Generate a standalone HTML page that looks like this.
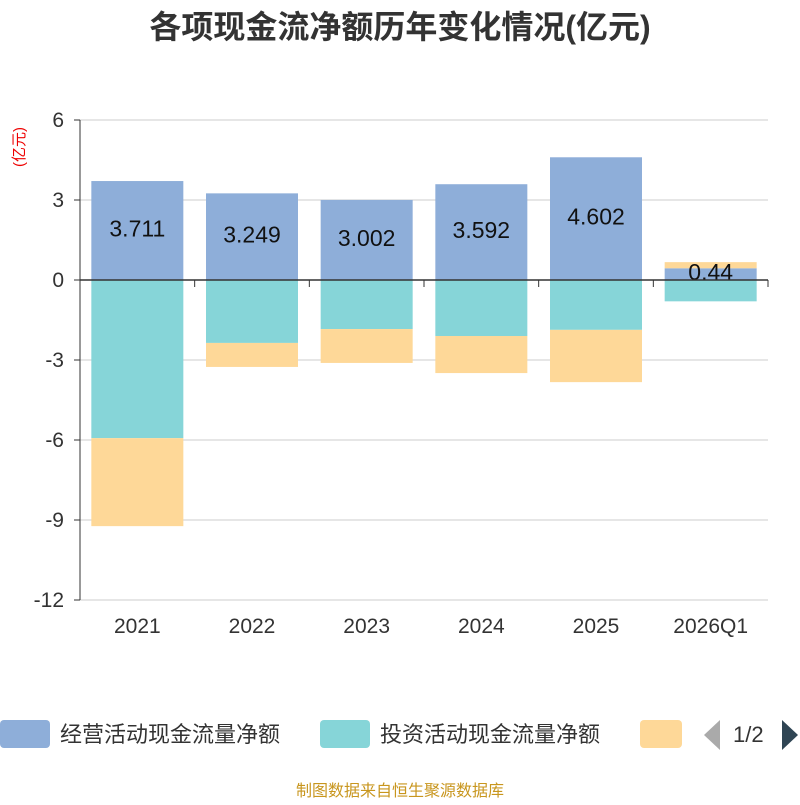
<!DOCTYPE html>
<html><head><meta charset="utf-8"><style>
body{margin:0;background:#fff;font-family:"Liberation Sans","Noto Sans CJK SC",sans-serif}
</style></head><body>
<svg id="c" width="800" height="800" xmlns="http://www.w3.org/2000/svg">
<text x="400" y="38" text-anchor="middle" font-size="32" font-weight="bold" fill="#333" font-family="Liberation Sans,Noto Sans CJK SC,sans-serif">各项现金流净额历年变化情况(亿元)</text>
<text transform="translate(24,147) rotate(-90)" text-anchor="middle" font-size="15" fill="#e00" font-family="Liberation Sans,Noto Sans CJK SC,sans-serif">(亿元)</text>
<g id="grid"></g><g id="bars"></g><g id="axes"></g>
<g font-family="Liberation Sans,Noto Sans CJK SC,sans-serif" font-size="22" fill="#333">
<rect x="0" y="720" width="50" height="28" rx="4" fill="#8eaed9"/>
<text x="60" y="742">经营活动现金流量净额</text>
<rect x="320" y="720" width="50" height="28" rx="4" fill="#86d5d8"/>
<text x="380" y="742">投资活动现金流量净额</text>
<rect x="640" y="720" width="42" height="28" rx="4" fill="#fed898"/>
<polygon points="720,720 720,750 704,735" fill="#aaa"/>
<text x="733" y="742">1/2</text>
<polygon points="782,720 782,750 798,735" fill="#2f4554"/>
</g>
<text x="400" y="796" text-anchor="middle" font-size="16" fill="#c8961e" font-family="Liberation Sans,Noto Sans CJK SC,sans-serif">制图数据来自恒生聚源数据库</text>
</svg>
<script>
const categories=["2021","2022","2023","2024","2025","2026Q1"];
const operating=[3.711,3.249,3.002,3.592,4.602,0.44];
const investing=[-5.93,-2.36,-1.84,-2.1,-1.87,-0.8];
const financing=[-3.3,-0.9,-1.27,-1.39,-1.96,0.23];
const yTicks=[6,3,0,-3,-6,-9,-12];
const NS="http://www.w3.org/2000/svg";
const L=80,R=768,T=120,B=600,yMin=-12,yMax=6;
const y=v=>T+(yMax-v)/(yMax-yMin)*(B-T);
const band=(R-L)/categories.length;
const x=i=>L+band*i;
function mk(tag,attrs,parent){const e=document.createElementNS(NS,tag);for(const k in attrs)e.setAttribute(k,attrs[k]);parent.appendChild(e);return e;}
const grid=document.getElementById('grid'),bars=document.getElementById('bars'),axes=document.getElementById('axes');
yTicks.forEach(t=>{
 const g=mk('line',{x1:L,x2:R,y1:y(t),y2:y(t),stroke:'#ccc','stroke-width':1},grid);
 
 
 const tk=mk('line',{x1:L-6,x2:L,y1:y(t),y2:y(t),stroke:'#333'},axes);
 
 
 const tx=mk('text',{x:L-16,y:y(t)+7,'text-anchor':'end','font-size':21,fill:'#333','font-family':'Liberation Sans,sans-serif'},axes);
 tx.textContent=t;
 
 
});
const bw=92;
categories.forEach((c,i)=>{
 const cx=x(i)+band/2,bx=cx-bw/2;
 let pos=0,neg=0;
 [[operating[i],'#8eaed9','bar-operating'],[investing[i],'#86d5d8','bar-investing'],[financing[i],'#fed898','bar-financing']].forEach(([v,col,nm])=>{
  let a,b;
  if(v>=0){a=pos;b=pos+v;pos=b;}else{a=neg;b=neg+v;neg=b;}
  const r=mk('rect',{x:bx,y:Math.min(y(a),y(b)),width:bw,height:Math.abs(y(a)-y(b)),fill:col},bars);
  
  
 });
 const lb=mk('text',{x:cx,y:(y(0)+y(operating[i]))/2+6,'text-anchor':'middle','font-size':23,fill:'#111','font-family':'Liberation Sans,sans-serif'},bars);
 lb.textContent=operating[i];
 
 
 const xl=mk('text',{x:cx,y:633,'text-anchor':'middle','font-size':21,fill:'#333','font-family':'Liberation Sans,sans-serif'},axes);
 xl.textContent=c;
 
 
});
const ya=mk('line',{x1:L,x2:L,y1:T,y2:B,stroke:'#333'},axes);


const xa=mk('line',{x1:L,x2:R,y1:y(0),y2:y(0),stroke:'#333','stroke-width':1.5},axes);


for(let i=0;i<=categories.length;i++){
 const t=mk('line',{x1:x(i),x2:x(i),y1:y(0),y2:y(0)+7,stroke:'#333'},axes);
 
 
}
</script>
</body></html>
